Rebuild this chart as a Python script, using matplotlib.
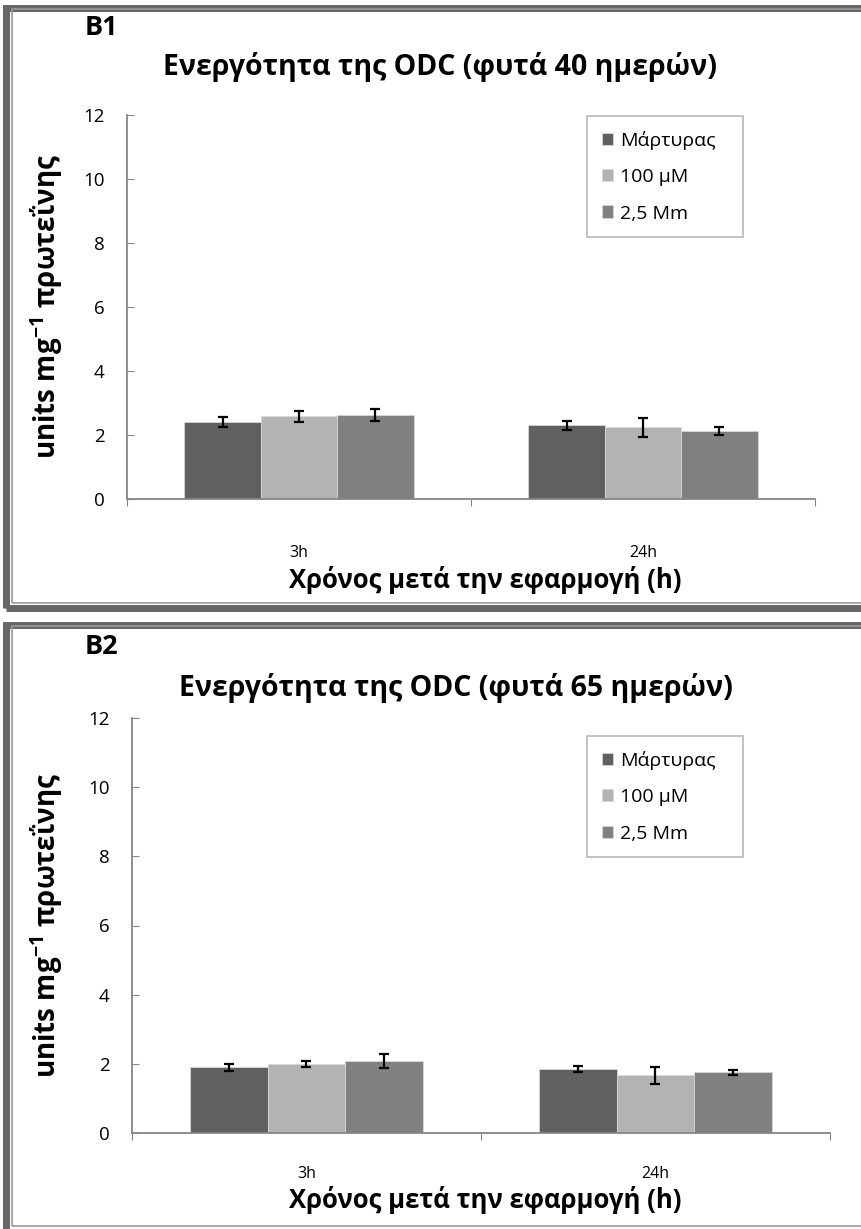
import matplotlib

matplotlib.use('Agg')

import matplotlib.pyplot as plt
import numpy as np
from matplotlib.patches import Rectangle

plt.rcParams['font.family'] = ['Open Sans', 'DejaVu Sans']
plt.rcParams['mathtext.fontset'] = 'custom'
plt.rcParams['mathtext.rm'] = 'Open Sans:bold'
plt.rcParams['mathtext.default'] = 'rm'

W, H = 862, 1229

CATEGORIES = ['3h', '24h']
SERIES = ['Μάρτυρας', '100 μM', '2,5 Mm']
COLORS = ['#606060', '#b3b3b3', '#808080']

# panel B1 (40 day plants)
B1_VALUES = [
    [2.41, 2.30],
    [2.58, 2.24],
    [2.63, 2.12],
]
B1_ERRORS = [
    [0.15, 0.15],
    [0.18, 0.29],
    [0.18, 0.12],
]

# panel B2 (65 day plants)
B2_VALUES = [
    [1.90, 1.85],
    [1.99, 1.67],
    [2.08, 1.76],
]
B2_ERRORS = [
    [0.10, 0.08],
    [0.08, 0.25],
    [0.20, 0.07],
]

YTICKS = [0, 2, 4, 6, 8, 10, 12]
AXIS_GRAY = '#868686'


def fx(x):
    return x / W


def fy(y):
    return 1 - y / H


def draw_frame(fig, top, bottom):
    # double border like the exported office chart
    fig.add_artist(Rectangle((fx(6), fy(bottom + 2)), fx(900), (bottom - top) / H,
                             transform=fig.transFigure, fill=False,
                             edgecolor='#666666', linewidth=5))
    fig.add_artist(Rectangle((fx(12), fy(bottom - 3)), fx(900), (bottom - top - 6) / H,
                             transform=fig.transFigure, fill=False,
                             edgecolor='#9a9a9a', linewidth=1.2))


def draw_panel(fig, rect, legend_box, values, errors, tag, title, tag_y, title_xy,
               xlabel_xy, tick_pad):
    left, top, right, bottom = rect
    ax = fig.add_axes([fx(left), fy(bottom), (right - left) / W, (bottom - top) / H])
    x = np.arange(len(CATEGORIES))
    width = 0.222
    for i, (name, color) in enumerate(zip(SERIES, COLORS)):
        ax.bar(x + (i - 1) * width, values[i], width, color=color, label=name,
               edgecolor='#d8d8d8', linewidth=0.6, zorder=2)
        ax.errorbar(x + (i - 1) * width, values[i], yerr=errors[i], fmt='none',
                    ecolor='black', elinewidth=1.6, capsize=3.6, capthick=1.6, zorder=3)

    ax.set_xlim(-0.5, 1.5)
    ax.set_ylim(0, 12)
    ax.set_yticks(YTICKS)
    ax.set_yticklabels([str(t) for t in YTICKS], fontsize=13.5)
    ax.set_xticks([-0.5, 0.5, 1.5])
    ax.set_xticklabels([])
    ax.set_xticks(x, minor=True)
    ax.set_xticklabels(CATEGORIES, minor=True, fontsize=11.5)
    ax.tick_params(axis='x', which='minor', length=0, pad=tick_pad)
    ax.tick_params(axis='x', which='major', length=5, color=AXIS_GRAY, direction='out')
    ax.tick_params(axis='y', length=5, color=AXIS_GRAY, direction='in', pad=16)
    for side in ['top', 'right']:
        ax.spines[side].set_visible(False)
    for side in ['left', 'bottom']:
        ax.spines[side].set_color(AXIS_GRAY)
        ax.spines[side].set_linewidth(1.3)

    lx0, ly0, lx1, ly1 = legend_box
    leg = ax.legend(loc='upper left', mode='expand',
                    bbox_to_anchor=(fx(lx0), fy(ly1), (lx1 - lx0) / W, (ly1 - ly0) / H),
                    bbox_transform=fig.transFigure, fontsize=14, frameon=True,
                    fancybox=False, handlelength=0.6, handleheight=0.6,
                    labelspacing=0.95, handletextpad=0.35, borderpad=0.75,
                    borderaxespad=0)
    leg.get_frame().set_edgecolor('#a6a6a6')
    leg.get_frame().set_linewidth(1.2)

    fig.text(fx(101), fy(tag_y), tag, fontsize=19.5, fontweight='bold',
             ha='center', va='center')
    fig.text(fx(title_xy[0]), fy(title_xy[1]), title, fontsize=20.5,
             fontweight='bold', ha='center', va='center')
    fig.text(fx(47), fy((top + bottom) / 2), 'units mg$^{-1}$ πρωτεΐνης',
             fontsize=20, fontweight='bold', rotation=90, ha='center', va='center')
    fig.text(fx(xlabel_xy[0]), fy(xlabel_xy[1]), 'Χρόνος μετά την εφαρμογή (h)',
             fontsize=18.5, fontweight='bold', ha='center', va='center')
    return ax


fig = plt.figure(figsize=(W / 100, H / 100), dpi=100)

draw_frame(fig, 6, 606)
draw_frame(fig, 623, 1229)

draw_panel(fig, (127, 115, 815, 499), (587, 116, 743, 237), B1_VALUES, B1_ERRORS, 'B1',
           'Ενεργότητα της ODC (φυτά 40 ημερών)', 28, (440, 67), (485, 580), 33)
draw_panel(fig, (132, 718, 830, 1133), (587, 736, 743, 853), B2_VALUES, B2_ERRORS, 'B2',
           'Ενεργότητα της ODC (φυτά 65 ημερών)', 647, (456, 688), (485, 1200), 24)

fig.savefig('out.png', dpi=100)
